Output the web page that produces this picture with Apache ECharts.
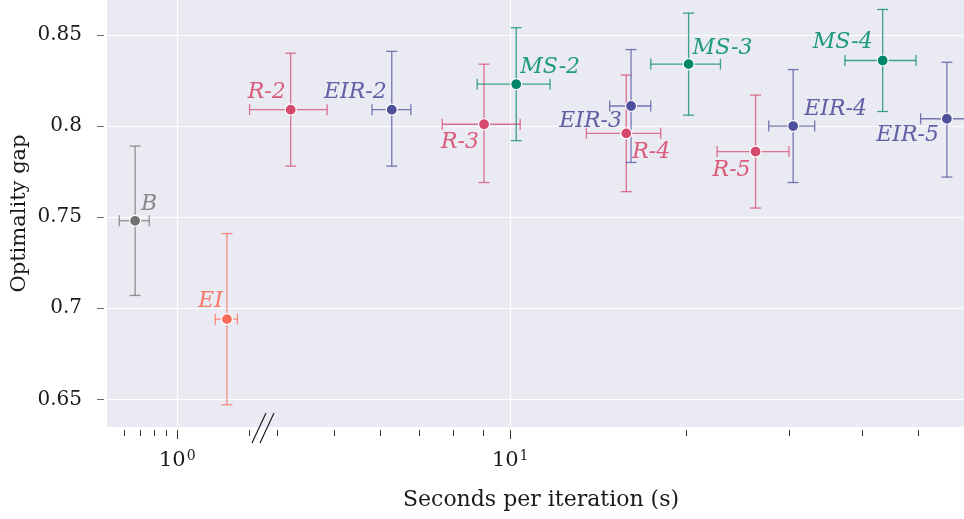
<!DOCTYPE html>
<html>
<head>
<meta charset="utf-8">
<script src="https://cdn.jsdelivr.net/npm/echarts@6/dist/echarts.min.js"></script>
<style>html,body{margin:0;padding:0;background:#fff}#main{width:964px;height:519px}</style>
</head>
<body>
<div id="main"></div>
<script>
// values
var names   = ['B', 'EI', 'R-2', 'EIR-2', 'R-3', 'MS-2', 'EIR-3', 'R-4', 'MS-3', 'R-5', 'EIR-4', 'MS-4', 'EIR-5'];
var seconds = [0.667, 1.61, 4.21, 6.27, 9.02, 10.24, 16.1, 15.8, 20.2, 26.3, 30.5, 43.4, 55.9];
var secLow  = [0.573, 1.44, 3.58, 5.80, 7.65, 8.78, 14.8, 13.5, 17.4, 22.6, 27.7, 37.4, 50.4];
var secHigh = [0.764, 1.78, 4.86, 6.76, 10.4, 11.7, 17.4, 18.1, 22.9, 30.0, 33.2, 49.5, 61.9];
var gap     = [0.748, 0.694, 0.809, 0.809, 0.801, 0.823, 0.811, 0.796, 0.834, 0.786, 0.800, 0.836, 0.804];
var gapLow  = [0.707, 0.647, 0.778, 0.778, 0.769, 0.792, 0.780, 0.764, 0.806, 0.755, 0.769, 0.808, 0.772];
var gapHigh = [0.789, 0.741, 0.840, 0.841, 0.834, 0.854, 0.842, 0.828, 0.862, 0.817, 0.831, 0.864, 0.835];

var yTicks = [0.65, 0.7, 0.75, 0.8, 0.85];
var leftMajor = [1], leftMinor = [0.6, 0.7, 0.8, 0.9, 2];
var rightMajor = [10], rightMinor = [4, 5, 6, 7, 8, 9, 20, 30, 40, 50];

// styling
var colors = {B: '#727272', EI: '#fb6b5b', R: '#d6496d', EIR: '#4f509c', MS: '#00876a'};
var labelColors = {B: '#8a8a8a', EI: '#fa7a6c', R: '#da5b7b', EIR: '#5f60a6', MS: '#1f9a7c'};
var labelPlace = {
  'B': ['left', 6, -17], 'EI': ['right', -4, -18], 'R-2': ['right', -5, -17], 'EIR-2': ['right', -5, -17],
  'R-3': ['right', -5, 18], 'MS-2': ['left', 4, -17], 'EIR-3': ['right', -9, 15], 'R-4': ['left', 6, 19],
  'MS-3': ['left', 4, -16], 'R-5': ['right', -5, 19], 'EIR-4': ['left', 11, -17], 'MS-4': ['right', -10, -18],
  'EIR-5': ['right', -8, 17]
};
var FONT = '"DejaVu Serif", "Liberation Serif", serif';
var yMin = 0.6348, yMax = 0.8692;

function family(n) { return n.split('-')[0]; }

function errRender(color) {
  return function (params, api) {
    var x = api.value(0), y = api.value(1);
    var c = api.coord([x, y]);
    var l = api.coord([api.value(2), y]), r = api.coord([api.value(3), y]);
    var b = api.coord([x, api.value(4)]), t = api.coord([x, api.value(5)]);
    var cap = 5.5;
    var st = {stroke: color, lineWidth: 1.3, opacity: 0.75};
    function ln(x1, y1, x2, y2) { return {type: 'line', shape: {x1: x1, y1: y1, x2: x2, y2: y2}, style: st}; }
    return {type: 'group', children: [
      ln(l[0], c[1], r[0], c[1]), ln(l[0], c[1] - cap, l[0], c[1] + cap), ln(r[0], c[1] - cap, r[0], c[1] + cap),
      ln(c[0], t[1], c[0], b[1]), ln(c[0] - cap, t[1], c[0] + cap, t[1]), ln(c[0] - cap, b[1], c[0] + cap, b[1])
    ]};
  };
}

// group points by family and panel
var groups = {};
names.forEach(function (n, i) {
  var panel = seconds[i] < 3 ? 0 : 1;
  var key = family(n) + '|' + panel;
  if (!groups[key]) groups[key] = {fam: family(n), panel: panel, err: [], pts: []};
  groups[key].err.push([seconds[i], gap[i], secLow[i], secHigh[i], gapLow[i], gapHigh[i]]);
  var lp = labelPlace[n];
  groups[key].pts.push({value: [seconds[i], gap[i]], name: n, label: {align: lp[0], offset: [lp[1], lp[2]]}});
});

var series = [];
Object.keys(groups).forEach(function (k) {
  var g = groups[k], col = colors[g.fam];
  series.push({
    type: 'custom', xAxisIndex: g.panel * 2, yAxisIndex: g.panel, clip: true, z: 2,
    renderItem: errRender(col), data: g.err
  });
  series.push({
    type: 'scatter', xAxisIndex: g.panel * 2, yAxisIndex: g.panel, z: 3,
    symbolSize: 11, itemStyle: {color: col, borderColor: '#fff', borderWidth: 1.2, opacity: 1},
    label: {show: true, position: 'inside', verticalAlign: 'middle', formatter: '{b}',
      fontFamily: FONT, fontStyle: 'italic', fontSize: 22, color: labelColors[g.fam]},
    data: g.pts
  });
});

function majorAxis(grid, min, max, ticks) {
  return {
    type: 'log', gridIndex: grid, min: min, max: max, position: 'bottom', offset: 3,
    axisLine: {show: false},
    axisTick: {show: true, length: 9, customValues: ticks, lineStyle: {color: '#333', width: 1}},
    axisLabel: {customValues: ticks, margin: 19, fontFamily: FONT, color: '#1a1a1a',
      formatter: function (v) { return '{b|10}{s|' + Math.round(Math.log10(v)) + '}'; },
      rich: {b: {fontSize: 21, fontFamily: FONT, color: '#1a1a1a'},
             s: {fontSize: 14, fontFamily: FONT, color: '#1a1a1a', verticalAlign: 'top', padding: [0, 0, 10, 1]}}},
    splitLine: {show: true, lineStyle: {color: '#fff', width: 1.2}}
  };
}
function minorAxis(grid, min, max, ticks) {
  return {
    type: 'log', gridIndex: grid, min: min, max: max, position: 'bottom', offset: 3,
    axisLine: {show: false},
    axisTick: {show: true, length: 6, customValues: ticks, lineStyle: {color: '#333', width: 1}},
    axisLabel: {show: false}, splitLine: {show: false}
  };
}

var option = {
  animation: false,
  backgroundColor: '#fff',
  grid: [
    {left: 107, top: 0, width: 155, bottom: 92, show: true, backgroundColor: '#eaeaf2', borderWidth: 0},
    {left: 246, top: 0, right: 0, bottom: 92, show: true, backgroundColor: '#eaeaf2', borderWidth: 0}
  ],
  xAxis: [
    majorAxis(0, 0.5093, 2.254, leftMajor), minorAxis(0, 0.5093, 2.254, leftMinor),
    majorAxis(1, 3.53, 59.8, rightMajor), minorAxis(1, 3.53, 59.8, rightMinor)
  ],
  yAxis: [
    {type: 'value', gridIndex: 0, min: yMin, max: yMax, offset: 3,
      name: 'Optimality gap', nameLocation: 'middle', nameGap: 74,
      nameTextStyle: {fontFamily: FONT, fontSize: 21, color: '#1a1a1a'},
      axisLine: {show: false},
      axisTick: {show: true, length: 7, customValues: yTicks, lineStyle: {color: '#666'}},
      axisLabel: {customValues: yTicks, margin: 22, fontFamily: FONT, fontSize: 20, color: '#1a1a1a'},
      splitLine: {show: true, lineStyle: {color: '#fff', width: 1.2}}},
    {type: 'value', gridIndex: 1, min: yMin, max: yMax,
      axisLine: {show: false}, axisTick: {show: false, customValues: yTicks},
      axisLabel: {show: false, customValues: yTicks},
      splitLine: {show: true, lineStyle: {color: '#fff', width: 1.2}}}
  ],
  graphic: [
    {type: 'line', shape: {x1: 252, y1: 443, x2: 266, y2: 413}, style: {stroke: '#111', lineWidth: 1.1}, z: 10},
    {type: 'line', shape: {x1: 260, y1: 443, x2: 274, y2: 413}, style: {stroke: '#111', lineWidth: 1.1}, z: 10},
    {type: 'text', x: 541, y: 500, z: 10,
      style: {text: 'Seconds per iteration (s)', font: '22px ' + FONT, fill: '#1a1a1a', align: 'center', verticalAlign: 'middle'}}
  ],
  series: series
};

var chart = echarts.init(document.getElementById('main'));
chart.setOption(option);
</script>
</body>
</html>
